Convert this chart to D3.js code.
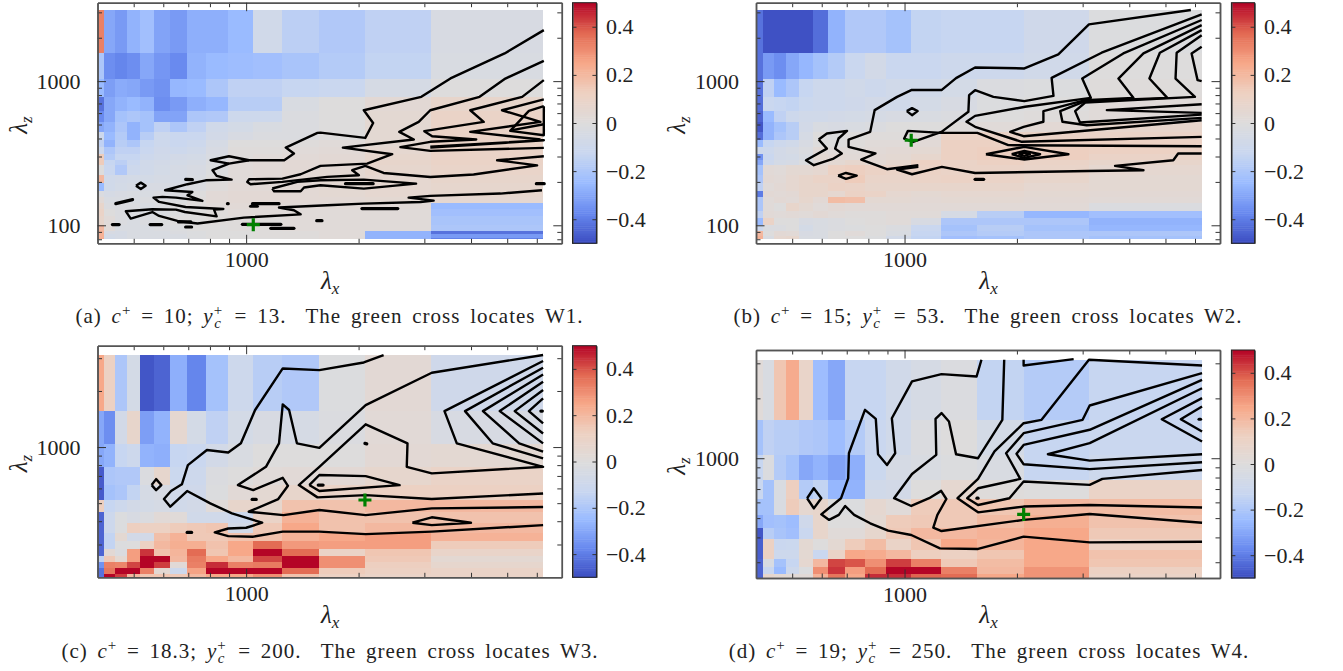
<!DOCTYPE html>
<html>
<head>
<meta charset="utf-8">
<script src="https://cdn.jsdelivr.net/npm/d3@7"></script>
<style>
body { margin: 0; background: #fff; }
text { font-family: "Liberation Serif", serif; fill: #222; }
</style>
</head>
<body>
<div id="chart"></div>
<script>
// bin edges of the spectra (streamwise and spanwise wavelengths)
const lxEdges = [390.6, 416.7, 446.4, 480.8, 520.8, 568.2, 625, 694.4, 781.3, 892.9, 1041.7, 1250, 1562.5, 2083.3, 3125, 6250];
const lzEdges = [3125, 1562.5, 1041.7, 781.3, 625, 520.8, 446.4, 390.6, 347.2, 312.5, 284.1, 260.4, 240.4, 223.2, 208.3, 195.3, 183.8, 173.6, 164.5, 156.3, 148.8, 142, 135.9, 130.2, 125, 120.2, 115.7, 111.6, 107.8, 104.2, 100.8, 97.7, 94.7, 91.9, 89.3, 86.8, 84.5, 82.2, 80.1];

// last spanwise bin of each row in the value tables
const rowEndA = [1, 2, 3, 4, 5, 6, 7, 8, 9, 10, 11, 13, 15, 17, 19, 21, 23, 26, 30, 33, 35, 37, 38];
const rowEndB = [1, 2, 3, 4, 5, 6, 7, 8, 9, 10, 11, 13, 15, 17, 19, 21, 24, 27, 30, 33, 36, 38];
const rowEndC = [1, 2, 3, 4, 5, 6, 7, 8, 9, 10, 11, 12, 13, 14, 15];
const rowEndD = [1, 2, 3, 4, 5, 6, 7, 8, 9, 10, 11, 12];

const valuesA = [
  [.33,-.3,-.33,-.27,-.23,-.31,-.33,-.28,-.28,-.25,-.08,-.16,-.19,-.15,-.04],
  [-.2,-.36,-.38,-.36,-.3,-.34,-.37,-.27,-.25,-.24,-.23,-.21,-.18,-.14,-.03],
  [-.25,-.32,-.29,-.3,-.33,-.35,-.26,-.25,-.2,-.15,-.15,-.13,-.12,-.05,0],
  [-.42,-.3,-.27,-.25,-.27,-.36,-.33,-.28,-.26,-.17,-.17,-.03,0,.04,.08],
  [-.37,-.3,-.22,-.2,-.22,-.31,-.31,-.2,-.19,-.1,-.1,-.02,0,.05,.1],
  [-.3,-.27,-.2,-.27,-.22,-.15,-.2,-.15,-.08,-.06,-.03,-.02,0,.05,.1],
  [-.1,-.25,-.18,-.27,-.17,-.1,-.12,-.12,-.07,-.04,-.02,-.02,0,.05,.1],
  [-.15,-.27,-.17,-.2,-.13,-.1,-.12,-.1,-.05,0,0,.01,.02,.05,.1],
  [-.1,-.2,-.15,-.15,-.12,-.09,-.1,-.08,-.04,.01,.01,.02,.03,.06,.1],
  [.14,-.18,-.13,-.13,-.1,-.08,-.07,-.06,-.03,.01,.02,.03,.04,.07,.1],
  [.14,-.13,-.16,-.12,-.08,-.07,-.06,-.05,-.02,.02,.03,.04,.05,.08,.1],
  [0,-.12,-.19,-.1,-.08,-.06,-.05,-.04,-.01,.02,.03,.04,.05,.07,.09],
  [.2,-.08,-.07,-.06,-.06,-.05,-.05,-.03,0,.02,.03,.04,.05,.06,.08],
  [-.25,-.08,-.06,-.05,-.04,-.04,-.04,-.02,.01,.03,.03,.04,.05,.06,.07],
  [-.02,-.05,-.04,-.03,-.03,-.02,-.02,0,.03,.04,.04,.04,.05,.06,.07],
  [.03,-.03,-.03,-.03,-.02,-.02,-.01,.01,.03,.04,.04,.04,.04,.05,.06],
  [.08,-.02,-.02,-.02,-.03,-.02,0,.01,.02,.03,.03,.03,.03,.03,-.25],
  [.1,0,-.02,-.02,-.03,-.03,-.01,0,.01,.02,.02,.02,.02,.02,-.23],
  [.08,.02,-.02,-.03,-.02,-.01,0,0,.01,.01,.01,.02,.02,.02,-.21],
  [.2,.02,-.03,-.03,-.03,-.02,-.01,0,0,.01,.01,.02,.02,.02,-.2],
  [.22,-.04,-.05,-.03,-.03,-.03,-.02,-.01,0,0,.01,.01,.02,-.27,-.42],
  [.22,-.06,-.05,-.03,-.03,-.03,-.03,-.01,0,0,.01,.01,.02,-.27,-.33],
  [.24,-.08,-.05,-.03,-.04,-.04,-.03,-.02,0,0,0,.01,.02,-.27,-.39]
];
const valuesB = [
  [-.42,-.49,-.49,-.49,-.49,-.43,-.27,-.19,-.19,-.22,-.14,-.13,-.13,-.09,-.01],
  [-.42,-.33,-.36,-.3,-.26,-.22,-.18,-.12,-.07,-.12,-.12,-.1,-.1,-.08,0],
  [-.42,-.15,-.25,-.2,-.13,-.1,-.1,-.08,-.1,-.08,-.08,-.06,-.02,-.01,.01],
  [-.43,-.12,-.13,-.14,-.11,-.1,-.1,-.09,-.07,-.08,-.06,-.04,-.01,0,.02],
  [-.45,-.25,-.15,-.1,-.08,-.08,-.07,-.06,-.05,-.04,-.03,-.02,0,.01,.02],
  [-.48,-.27,-.22,-.17,-.07,-.03,-.04,-.03,-.02,0,0,.01,.02,.04,.08],
  [-.43,-.27,-.2,-.17,-.05,0,-.01,0,.01,.01,.02,.1,.1,.1,.1],
  [-.25,-.13,-.1,-.08,-.04,0,0,.01,.02,.02,.03,.12,.12,.12,.12],
  [-.1,-.1,-.07,-.05,-.02,.03,.02,.02,.03,.04,.05,.12,.13,.13,.12],
  [-.35,-.12,-.07,-.06,-.03,.05,.04,.03,.04,.05,.07,.12,.13,.13,.1],
  [-.3,-.1,-.06,-.05,-.01,.02,.05,.07,.05,.07,.12,.1,.12,.1,.08],
  [-.22,.03,.02,.05,.05,.06,.12,.13,.11,.1,.11,.1,.1,.09,.06],
  [-.2,.04,.03,.06,.08,.1,.1,.14,.09,.09,.1,.11,.1,.08,.05],
  [-.15,.02,.04,.06,.08,.08,.11,.1,.08,.08,.08,.08,.08,.06,.05],
  [-.4,.04,.03,.04,.08,.08,.06,.11,.1,.06,.05,.06,.06,.05,.04],
  [-.2,.02,.04,.03,.07,.04,.19,.18,.05,.05,.04,.05,.05,.04,.03],
  [-.2,.02,0,.08,.05,.02,.04,.03,.03,.03,.03,.03,.03,.03,-.02],
  [-.15,.03,.02,.03,.02,.04,.02,.01,.01,.02,.02,-.05,-.17,-.26,-.23],
  [-.25,.1,0,0,-.04,-.03,-.02,0,.01,.02,-.04,-.2,-.2,-.2,-.27],
  [-.1,-.02,-.02,0,-.06,-.03,-.02,-.01,0,-.02,-.12,-.22,-.17,-.22,-.26],
  [.2,0,.04,.03,-.04,-.03,0,.02,0,-.03,-.13,-.2,-.18,-.2,-.2],
  [.22,-.03,.06,.07,-.03,-.03,0,0,-.01,-.07,-.14,-.23,-.22,-.2,-.22]
];
const valuesC = [
  [.25,.12,-.2,-.06,-.48,-.45,-.28,-.38,-.22,-.1,-.17,-.19,-.01,.04,-.09],
  [-.3,-.36,-.07,.08,-.32,-.27,.06,-.06,-.15,-.06,-.04,-.05,-.02,.03,-.04],
  [-.3,-.27,-.13,-.1,-.27,-.28,-.13,-.12,-.07,-.03,0,0,0,.04,.05],
  [-.47,-.2,-.19,-.19,-.02,.07,-.11,-.1,-.02,0,.02,.03,.04,.07,.1],
  [-.47,-.22,-.2,-.14,-.05,-.04,-.08,-.09,-.01,.03,.05,.08,.1,.12,.12],
  [.13,-.13,-.1,-.07,-.06,-.05,-.08,-.07,.02,.08,.07,.17,.17,.2,.2],
  [-.45,-.1,-.01,-.04,-.02,.03,.02,-.08,-.08,-.1,.1,.22,.17,.17,.17],
  [-.45,-.1,-.01,.13,.12,.12,.14,.15,.16,-.07,.15,.25,.17,.2,.2],
  [-.45,-.14,.05,-.07,-.07,.18,.22,.15,.15,.17,.17,.22,.25,.27,.22],
  [-.45,-.14,-.01,0,.12,.2,.23,.23,.17,.25,.37,.28,.27,.27,.14],
  [-.45,.04,-.02,.27,.44,.17,.21,.37,.16,.25,.5,.37,.1,.16,.09],
  [-.15,.15,.05,.27,.5,.5,.2,.34,.25,.2,.42,.5,.3,.15,.05],
  [-.35,.33,.32,.42,.5,.43,.03,.33,.45,.33,.34,.5,.3,.13,.07],
  [-.42,.35,.5,.5,.33,.05,-.1,.26,.5,.5,.5,.37,.14,.12,.1],
  [-.42,.5,.43,.2,.16,.16,.15,.2,.25,.25,.3,.17,.12,.1,.1]
];
const valuesD = [
  [.02,-.03,.16,.24,.09,-.24,-.3,-.13,-.13,-.08,-.05,-.02,-.14,-.18,-.13],
  [-.22,-.15,-.17,-.17,-.19,-.2,-.24,-.18,-.12,-.08,-.02,0,-.06,-.13,-.12],
  [-.13,-.02,-.18,-.22,-.3,-.27,-.31,-.28,-.11,-.05,-.03,-.01,-.03,-.13,-.1],
  [-.12,-.22,-.03,.13,-.18,-.14,-.26,-.27,-.08,-.07,0,.06,.01,0,.1],
  [-.22,-.22,-.03,.14,.06,.08,-.01,-.01,.06,.02,.14,.15,.16,.2,.19],
  [-.3,-.23,-.22,-.24,-.09,.08,0,0,.05,.14,.15,.15,.19,.23,.17],
  [-.48,-.17,-.21,-.23,-.12,.08,.02,.02,.07,.15,.2,.2,.22,.25,.15],
  [-.46,.12,-.12,-.11,.05,0,.05,.14,.19,.1,.16,.25,.21,.25,.12],
  [-.46,.12,-.1,-.1,.05,-.12,.1,.25,.24,.2,.13,.12,.16,.25,.17],
  [-.45,-.03,-.22,-.13,.06,.2,.42,.4,.3,.43,.33,.15,.19,.25,.16],
  [-.45,-.12,-.25,-.1,-.01,.3,.44,.27,.37,.5,.5,.33,.2,.29,.12],
  [-.45,.07,.05,.03,.03,.22,.35,.25,.45,.45,.38,.37,.25,.29,.1]
];

// contour lines as flat lists of log10(lambda_x), log10(lambda_z) pairs
const contoursA = [
  [3.797,3.354, 3.692,3.192, 3.547,3.019, 3.469,2.891, 3.315,2.798, 3.340,2.710, 3.319,2.606, 3.199,2.643, 3.191,2.641, 3.106,2.539, 3.128,2.498, 3.102,2.451, 3.008,2.451, 2.954,2.428, 2.910,2.382, 2.921,2.343, 2.961,2.317, 2.892,2.312, 2.843,2.285, 2.783,2.243, 2.856,2.231, 2.843,2.208, 2.883,2.169, 2.812,2.192, 2.776,2.197, 2.752,2.192, 2.767,2.162, 2.838,2.127, 2.939,2.113, 2.914,2.109, 2.921,2.062, 2.836,2.092, 2.812,2.109, 2.749,2.111, 2.678,2.097, 2.691,2.046, 2.749,2.092, 2.767,2.065, 2.816,2.030, 2.870,2.012, 2.994,2.053, 3.146,2.076, 3.128,2.104, 3.088,2.123, 3.217,2.139, 3.315,2.150, 3.467,2.162, 3.502,2.171, 3.435,2.192, 3.493,2.204, 3.681,2.220, 3.792,2.243],
  [3.797,3.141, 3.694,3.018, 3.625,2.891, 3.493,2.798, 3.462,2.717, 3.410,2.648, 3.449,2.595, 3.259,2.539, 3.391,2.493, 3.324,2.428, 3.199,2.412, 3.146,2.354, 3.097,2.324, 3.008,2.319, 3.003,2.301, 3.012,2.285, 3.097,2.301, 3.217,2.336, 3.302,2.347, 3.284,2.382, 3.319,2.412, 3.368,2.363, 3.493,2.335, 3.609,2.352, 3.779,2.416, 3.672,2.451, 3.797,2.479],
  [3.070,2.255, 3.075,2.236, 3.146,2.236, 3.155,2.262, 3.199,2.278, 3.315,2.254, 3.455,2.289, 3.315,2.317, 3.199,2.312, 3.137,2.301, 3.070,2.255],
  [3.797,3.007, 3.739,2.891, 3.600,2.798, 3.636,2.717, 3.477,2.653, 3.498,2.618, 3.616,2.595, 3.493,2.579, 3.413,2.542, 3.493,2.516, 3.797,2.537],
  [3.493,2.539, 3.797,2.590, 3.493,2.545],
  [3.797,2.873, 3.685,2.798, 3.788,2.717, 3.600,2.648, 3.788,2.595],
  [3.797,2.826, 3.757,2.794, 3.707,2.655, 3.797,2.625, 3.797,2.826],
  [3.712,2.660, 3.797,2.701],
  [2.954,2.428, 2.905,2.451, 2.954,2.479, 3.008,2.451],
  [2.705,2.275, 2.718,2.296, 2.731,2.275, 2.718,2.252, 2.705,2.275]
];
const fragmentsA = [
  [3.266,2.289, 3.340,2.289], [3.310,2.116, 3.406,2.116], [3.777,2.289, 3.798,2.289],
  [2.838,2.319, 2.856,2.317], [2.651,2.150, 2.696,2.178], [2.642,2.005, 2.660,2.005],
  [2.743,2.005, 2.774,2.005], [2.819,2.023, 2.852,2.023], [2.838,1.988, 2.854,1.988],
  [2.950,2.150, 2.952,2.150], [3.017,2.150, 3.088,2.150], [3.012,2.132, 3.030,2.132],
  [2.990,2.007, 3.093,2.007], [3.066,1.979, 3.128,1.979], [3.189,2.032, 3.203,2.032]
];
const contoursB = [
  [3.767,3.493, 3.494,3.394, 3.412,3.185, 3.321,3.088, 3.189,3.095, 3.138,3.021, 3.099,2.938, 3.018,2.938, 2.980,2.891, 2.920,2.799, 2.908,2.648, 2.850,2.595, 2.850,2.544, 2.922,2.498, 2.884,2.456, 2.953,2.389, 3.037,2.417],
  [3.796,3.424, 3.586,3.192, 3.476,3.018, 3.499,2.884, 3.323,2.822, 3.189,2.759, 3.166,2.718, 3.189,2.683, 3.314,2.579, 3.796,2.613],
  [3.796,3.463, 3.528,3.197, 3.394,3.023, 3.399,2.898, 3.321,2.861, 3.238,2.891, 3.189,2.937, 3.173,2.903, 3.171,2.787, 3.099,2.648, 3.023,2.578, 2.999,2.602, 3.009,2.655, 3.099,2.641, 3.195,2.641, 3.278,2.556, 3.796,2.548],
  [3.796,3.389, 3.640,3.192, 3.573,3.018, 3.613,2.884, 3.484,2.868, 3.372,2.792, 3.372,2.718, 3.319,2.683, 3.283,2.648, 3.319,2.618, 3.796,2.729],
  [3.796,3.354, 3.684,3.197, 3.656,3.018, 3.704,2.884, 3.484,2.861, 3.417,2.792, 3.423,2.718, 3.488,2.694, 3.796,2.745],
  [3.796,3.319, 3.729,3.197, 3.726,3.018, 3.778,2.891, 3.484,2.852, 3.457,2.792, 3.470,2.713, 3.796,2.768],
  [3.796,3.238, 3.769,3.192, 3.785,3.007, 3.796,3.000],
  [3.796,2.840, 3.542,2.799, 3.796,2.780],
  [3.796,2.498, 3.733,2.498, 3.720,2.451, 3.564,2.412, 3.640,2.382, 3.492,2.377, 3.189,2.363, 3.100,2.405, 3.020,2.354, 2.980,2.387, 3.037,2.405],
  [3.218,2.493, 3.321,2.544, 3.439,2.493, 3.321,2.456, 3.218,2.493],
  [3.287,2.493, 3.321,2.516, 3.363,2.493, 3.321,2.468, 3.287,2.493],
  [3.305,2.493, 3.321,2.505, 3.336,2.493, 3.321,2.481, 3.305,2.493],
  [2.770,2.595, 2.792,2.637, 2.846,2.655, 2.823,2.602, 2.814,2.532, 2.832,2.498, 2.810,2.463, 2.757,2.417, 2.736,2.451, 2.792,2.532, 2.770,2.595],
  [3.006,2.792, 3.020,2.813, 3.035,2.792, 3.020,2.764, 3.006,2.792],
  [2.822,2.345, 2.843,2.363, 2.872,2.345, 2.843,2.322, 2.822,2.345]
];
const fragmentsB = [[3.189,2.319, 3.212,2.319]];
const contoursC = [
  [3.368,3.494, 3.315,3.454, 3.196,3.413, 3.098,3.422, 3.024,3.199, 2.986,3.020, 2.952,2.971, 2.895,2.984, 2.844,2.903, 2.828,2.800, 2.799,2.764, 2.780,2.721, 2.797,2.680, 2.842,2.764, 2.904,2.698, 2.962,2.644, 3.043,2.594, 3.000,2.567, 2.952,2.563, 2.916,2.542, 2.952,2.522, 3.019,2.519, 3.098,2.546, 3.196,2.546, 3.320,2.533, 3.497,2.546, 3.795,2.581],
  [3.795,3.494, 3.497,3.399, 3.320,3.225, 3.196,2.996, 3.136,3.020, 3.115,3.199, 3.098,3.229, 3.088,3.020, 3.053,2.894, 2.978,2.796, 3.019,2.769, 3.098,2.835, 3.112,2.792, 3.086,2.721, 3.007,2.653, 3.100,2.635, 3.196,2.662, 3.320,2.635, 3.497,2.671, 3.795,2.678],
  [3.795,2.751, 3.497,2.721, 3.320,2.742, 3.191,2.730, 3.141,2.796, 3.196,2.894, 3.320,3.122, 3.432,3.020, 3.430,2.894, 3.497,2.859, 3.795,2.894, 3.564,3.020, 3.531,3.193, 3.795,3.462],
  [3.169,2.796, 3.196,2.850, 3.320,2.844, 3.411,2.796, 3.196,2.764, 3.169,2.796],
  [3.795,3.426, 3.586,3.193, 3.660,3.020, 3.795,2.939],
  [3.795,3.390, 3.634,3.193, 3.731,3.020, 3.795,2.975],
  [3.795,3.351, 3.679,3.193, 3.795,3.020],
  [3.795,3.306, 3.719,3.193, 3.795,3.073],
  [3.795,3.261, 3.757,3.193, 3.795,3.127],
  [2.747,2.796, 2.759,2.828, 2.773,2.796, 2.759,2.769, 2.747,2.796],
  [3.445,2.594, 3.497,2.623, 3.602,2.594, 3.497,2.581, 3.445,2.594]
];
const fragmentsC = [
  [3.193,2.796, 3.206,2.796], [3.016,2.719, 3.027,2.719], [3.318,3.020, 3.323,3.017],
  [2.842,2.542, 2.854,2.542], [3.789,3.193, 3.793,3.193]
];
const contoursD = [
  [3.206,3.495, 3.193,3.411, 3.099,3.423, 3.020,3.386, 2.966,3.201, 2.975,3.025, 2.953,2.966, 2.929,3.020, 2.923,3.198, 2.894,3.243, 2.851,3.025, 2.849,2.899, 2.830,2.799, 2.777,2.718, 2.798,2.690, 2.824,2.715, 2.841,2.760, 2.865,2.715, 2.908,2.673, 2.956,2.636, 3.018,2.614, 3.095,2.547, 3.197,2.544, 3.319,2.606, 3.496,2.577, 3.797,2.580],
  [3.267,3.495, 3.262,3.193, 3.197,3.000, 3.138,3.020, 3.119,3.185, 3.099,3.227, 3.083,3.198, 3.085,3.017, 3.020,2.921, 2.972,2.799, 3.018,2.760, 3.066,2.799, 3.098,2.836, 3.112,2.795, 3.088,2.715, 3.077,2.651, 3.099,2.634, 3.319,2.690, 3.496,2.720, 3.797,2.676],
  [3.319,3.495, 3.319,3.466, 3.453,3.498],
  [3.797,3.466, 3.494,3.495, 3.367,3.193, 3.319,3.176, 3.241,3.034, 3.197,2.896, 3.142,2.799, 3.197,2.728, 3.319,2.757, 3.496,2.765, 3.797,2.752],
  [3.797,3.428, 3.496,3.265, 3.477,3.193, 3.319,3.126, 3.272,3.025, 3.310,2.896, 3.197,2.849, 3.168,2.799, 3.197,2.765, 3.281,2.799, 3.319,2.883, 3.496,2.866, 3.530,2.896, 3.797,2.941],
  [3.797,3.394, 3.496,3.143, 3.319,3.067, 3.300,3.022, 3.319,2.970, 3.496,2.945, 3.797,2.980],
  [3.797,3.352, 3.496,3.076, 3.384,3.020, 3.496,2.988, 3.797,3.020],
  [3.797,3.302, 3.689,3.196, 3.797,3.084],
  [3.797,3.260, 3.740,3.196, 3.797,3.134],
  [2.739,2.799, 2.757,2.849, 2.777,2.799, 2.757,2.748, 2.739,2.799]
];
const fragmentsD = [[3.194,2.799, 3.197,2.799], [3.789,3.196, 3.793,3.196]];

// green crosses W1..W4 (lambda_x, lambda_z)
const crossX = [1045, 1042, 2080, 2085];
const crossZ = [101, 389, 520, 522];

const yMins = [75, 75, 200, 250];
const xDomain = [400, 7000];
const yMax = 3500;
const xMajor = [1000];
const xMinor = [500, 600, 700, 800, 900, 2000, 3000, 4000, 5000, 6000];
const yMajors = [[100, 1000], [100, 1000], [1000], [1000]];
const yMinors = [
  [80, 90, 200, 300, 400, 500, 600, 700, 800, 900, 2000, 3000],
  [80, 90, 200, 300, 400, 500, 600, 700, 800, 900, 2000, 3000],
  [300, 400, 500, 600, 700, 800, 900, 2000, 3000],
  [300, 400, 500, 600, 700, 800, 900, 2000, 3000]
];
const cbarTicks = [-0.4, -0.2, 0, 0.2, 0.4];

const panelLetters = ["a", "b", "c", "d"];
const cPlus = ["10", "15", "18.3", "19"];
const ycPlus = ["13", "53", "200", "250"];
const waveNames = ["W1", "W2", "W3", "W4"];

const width = 1343;
const height = 671;
const layouts = [
  { left: 97.5, right: 561.8, top: 2.7, bottom: 243.3, barL: 572.5, barR: 596.4, capX: 329.5, capY: 323, labY: 289 },
  { left: 756, right: 1220, top: 2.7, bottom: 243.3, barL: 1231.4, barR: 1254.6, capX: 988, capY: 323, labY: 289 },
  { left: 97.5, right: 561.8, top: 345.7, bottom: 577.3, barL: 572.5, barR: 596.4, capX: 330, capY: 658, labY: 623 },
  { left: 756, right: 1220, top: 350, bottom: 578, barL: 1231.4, barR: 1254.6, capX: 989, capY: 658, labY: 623 }
];

const color = d3.scaleLinear()
  .domain([-0.5, -0.375, -0.25, -0.125, 0, 0.125, 0.25, 0.375, 0.5])
  .range(["#3b4cc0", "#6788ee", "#9abbff", "#c9d7f0", "#dddcdc", "#edd1c2", "#f7a889", "#e26952", "#b40426"])
  .clamp(true);

const svg = d3.select("#chart").append("svg")
  .attr("width", width)
  .attr("height", height)
  .style("display", "block");

function styleAxis(g) {
  g.selectAll("path.domain").attr("stroke", "#555").attr("stroke-width", 1.5);
  g.selectAll("line").attr("stroke", "#333").attr("stroke-width", 1);
  g.selectAll("text").style("font-family", "'Liberation Serif', serif").style("font-size", "22px").attr("fill", "#222");
}

function addAxes(g, axis, pos, transform, major, minor, fmt, pad) {
  const base = (vals, size, f) => axis(pos).tickValues(vals).tickSize(-size).tickSizeOuter(0).tickPadding(pad).tickFormat(f);
  g.append("g").attr("transform", transform).call(base(minor, 4.5, () => "")).call(styleAxis);
  g.append("g").attr("transform", transform).call(base(major, 8.5, fmt)).call(styleAxis);
}

function pairs(flat) {
  return d3.range(0, flat.length, 2).map(i => [flat[i], flat[i + 1]]);
}

function drawPanel(i, rowEnd, values, contours, fragments) {
  const L = layouts[i];
  const x = d3.scaleLog().domain(xDomain).range([L.left, L.right]);
  const y = d3.scaleLog().domain([yMax, yMins[i]]).range([L.top, L.bottom]);
  const g = svg.append("g");

  const clipId = "clip" + i;
  g.append("clipPath").attr("id", clipId).append("rect")
    .attr("x", L.left).attr("y", L.top)
    .attr("width", L.right - L.left).attr("height", L.bottom - L.top);
  const plot = g.append("g").attr("clip-path", `url(#${clipId})`);

  // value cells
  const cells = [];
  rowEnd.forEach((end, r) => {
    const start = r === 0 ? 0 : rowEnd[r - 1];
    values[r].forEach((v, c) => {
      cells.push({ x0: lxEdges[c], x1: lxEdges[c + 1], z0: lzEdges[start], z1: lzEdges[end], v: v });
    });
  });
  plot.selectAll("rect.cell").data(cells).enter().append("rect")
    .attr("class", "cell")
    .attr("x", d => x(d.x0))
    .attr("y", d => y(d.z0))
    .attr("width", d => x(d.x1) - x(d.x0))
    .attr("height", d => y(d.z1) - y(d.z0))
    .attr("fill", d => color(d.v))
    .attr("shape-rendering", "crispEdges");

  // contour lines
  const line = d3.line().x(p => x(Math.pow(10, p[0]))).y(p => y(Math.pow(10, p[1])));
  plot.selectAll("path.contour").data(contours.map(pairs)).enter().append("path")
    .attr("class", "contour")
    .attr("d", line)
    .attr("fill", "none")
    .attr("stroke", "#000")
    .attr("stroke-width", 2.4)
    .attr("stroke-linejoin", "round");
  plot.selectAll("path.frag").data(fragments.map(pairs)).enter().append("path")
    .attr("class", "frag")
    .attr("d", line)
    .attr("fill", "none")
    .attr("stroke", "#000")
    .attr("stroke-width", 3.2)
    .attr("stroke-linecap", "round");

  // cross
  g.append("path")
    .attr("d", "M-6.5,0H6.5M0,-6.5V6.5")
    .attr("transform", `translate(${x(crossX[i])},${y(crossZ[i])})`)
    .attr("fill", "none")
    .attr("stroke", "#008000")
    .attr("stroke-width", 3.2);

  // axes, ticks point inwards on all four sides
  const fmt = d3.format("d");
  const none = () => "";
  addAxes(g, d3.axisBottom, x, `translate(0,${L.bottom})`, xMajor, xMinor, fmt, 8);
  addAxes(g, d3.axisTop, x, `translate(0,${L.top})`, xMajor, xMinor, none, 3);
  addAxes(g, d3.axisLeft, y, `translate(${L.left},0)`, yMajors[i], yMinors[i], fmt, 17);
  addAxes(g, d3.axisRight, y, `translate(${L.right},0)`, yMajors[i], yMinors[i], none, 3);

  // axis labels
  const xl = g.append("text")
    .attr("x", (L.left + L.right) / 2 + 0.5)
    .attr("y", L.labY)
    .attr("text-anchor", "middle")
    .style("font-size", "25px");
  xl.append("tspan").style("font-style", "italic").text("λ");
  xl.append("tspan").attr("dy", 5).style("font-size", "17px").style("font-style", "italic").text("x");

  const yl = g.append("text")
    .attr("transform", `translate(${L.left - 71},${(L.top + L.bottom) / 2 + 2}) rotate(-90)`)
    .attr("text-anchor", "middle")
    .style("font-size", "25px");
  yl.append("tspan").style("font-style", "italic").text("λ");
  yl.append("tspan").attr("dy", 5).style("font-size", "17px").style("font-style", "italic").text("z");

  // colour bar
  const barY = d3.scaleLinear().domain([-0.5, 0.5]).range([L.bottom, L.top]);
  const levels = d3.range(-0.5, 0.5, 1 / 128);
  g.selectAll("rect.level").data(levels).enter().append("rect")
    .attr("class", "level")
    .attr("x", L.barL)
    .attr("width", L.barR - L.barL)
    .attr("y", d => barY(d + 1 / 128))
    .attr("height", d => barY(d) - barY(d + 1 / 128) + 0.5)
    .attr("fill", d => color(d + 1 / 256));
  const barFmt = d => d === 0 ? "0" : d3.format(".1f")(d);
  g.append("g").attr("transform", `translate(${L.barR},0)`)
    .call(d3.axisRight(barY).tickValues(cbarTicks).tickSize(-4).tickSizeOuter(0).tickPadding(9.5).tickFormat(barFmt))
    .call(styleAxis);
  g.append("g").attr("transform", `translate(${L.barL},0)`)
    .call(d3.axisLeft(barY).tickValues(cbarTicks).tickSize(-4).tickSizeOuter(0).tickFormat(none))
    .call(styleAxis);
  g.append("rect")
    .attr("x", L.barL).attr("y", L.top)
    .attr("width", L.barR - L.barL).attr("height", L.bottom - L.top)
    .attr("fill", "none").attr("stroke", "#222").attr("stroke-width", 1);

  // caption
  const cap = g.append("text")
    .attr("x", L.capX)
    .attr("y", L.capY)
    .attr("text-anchor", "middle")
    .style("font-size", "21px")
    .style("letter-spacing", "1px")
    .style("word-spacing", "3.5px")
    .attr("xml:space", "preserve");
  cap.append("tspan").text(`(${panelLetters[i]}) `);
  cap.append("tspan").style("font-style", "italic").text("c");
  cap.append("tspan").attr("dy", -8).style("font-size", "15px").text("+");
  cap.append("tspan").attr("dy", 8).text(` = ${cPlus[i]}; `);
  cap.append("tspan").style("font-style", "italic").text("y");
  cap.append("tspan").attr("dy", -8).style("font-size", "15px").text("+");
  cap.append("tspan").attr("dy", 13).attr("dx", -9).style("font-size", "15px").style("font-style", "italic").text("c");
  cap.append("tspan").attr("dy", -5).attr("dx", 3).text(` = ${ycPlus[i]}.  The green cross locates ${waveNames[i]}.`);
}

drawPanel(0, rowEndA, valuesA, contoursA, fragmentsA);
drawPanel(1, rowEndB, valuesB, contoursB, fragmentsB);
drawPanel(2, rowEndC, valuesC, contoursC, fragmentsC);
drawPanel(3, rowEndD, valuesD, contoursD, fragmentsD);
</script>
</body>
</html>
